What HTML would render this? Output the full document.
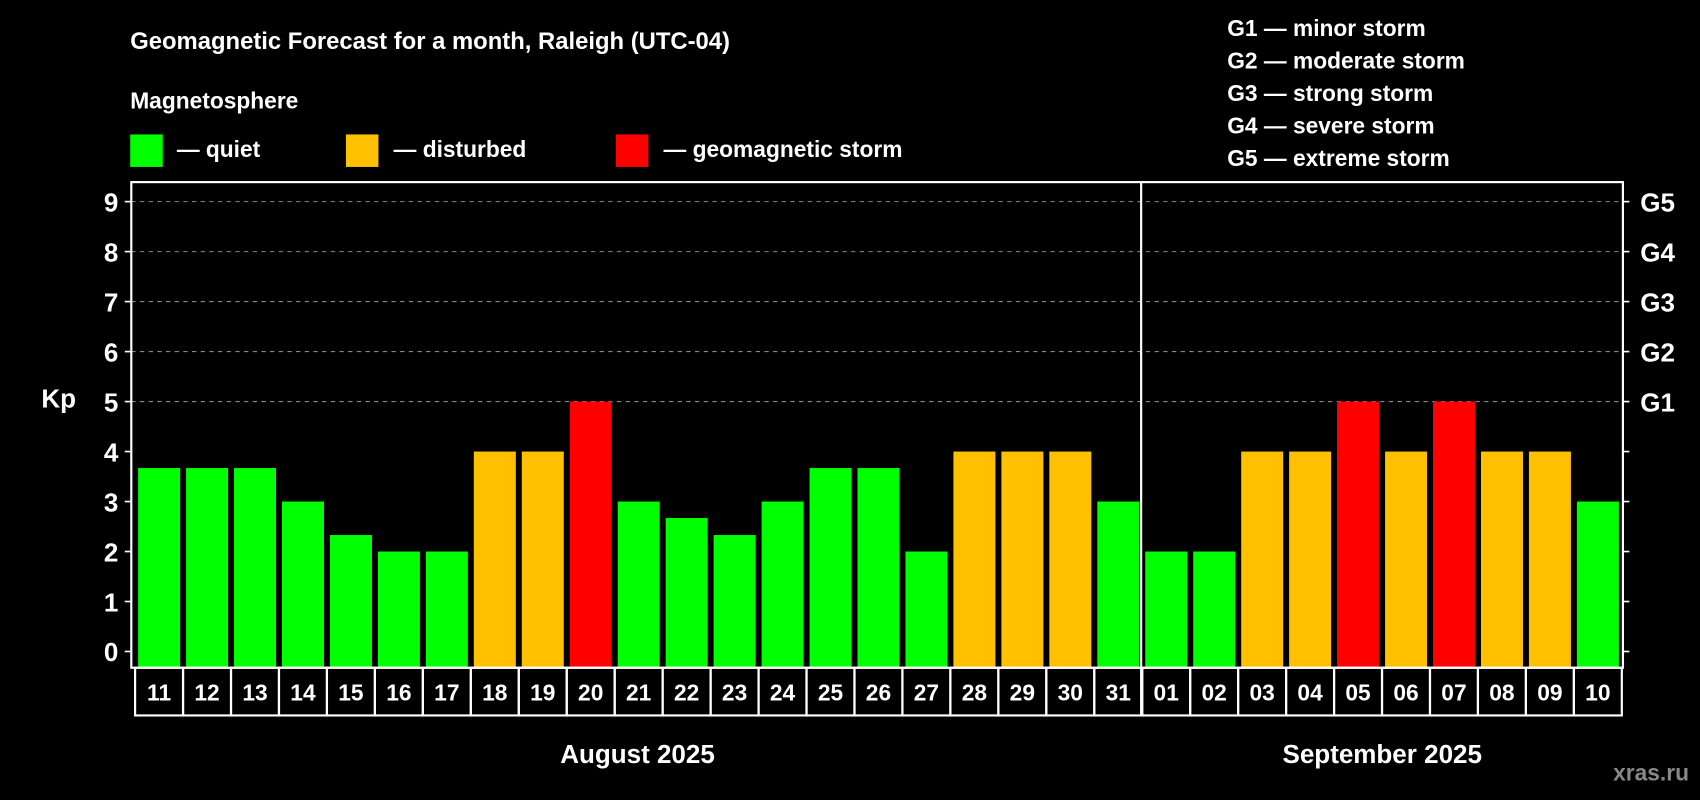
<!DOCTYPE html>
<html><head><meta charset="utf-8"><style>
html,body{margin:0;padding:0;background:#000;}
svg{display:block;font-family:"Liberation Sans",Arial,sans-serif;font-weight:bold;}
</style></head><body>
<svg id="chart" width="1700" height="800" viewBox="0 0 1568 738" xmlns="http://www.w3.org/2000/svg">
<rect width="1568" height="738" fill="#000"/>
<text x="120" y="45" fill="#fff" font-size="22">Geomagnetic Forecast for a month, Raleigh (UTC-04)</text>
<text x="120" y="100" fill="#fff" font-size="21">Magnetosphere</text>
<g><rect x="120" y="124" width="30" height="30" fill="#00ff00"/><text x="163" y="145" fill="#fff" font-size="21">— quiet</text></g>
<g><rect x="319" y="124" width="30" height="30" fill="#ffc000"/><text x="363" y="145" fill="#fff" font-size="21">— disturbed</text></g>
<g><rect x="568" y="124" width="30" height="30" fill="#ff0000"/><text x="612" y="145" fill="#fff" font-size="21">— geomagnetic storm</text></g>
<g fill="#fff" font-size="21">
<text x="1132" y="33">G1 — minor storm</text>
<text x="1132" y="63">G2 — moderate storm</text>
<text x="1132" y="93">G3 — strong storm</text>
<text x="1132" y="123">G4 — severe storm</text>
<text x="1132" y="153">G5 — extreme storm</text>
</g>
<text x="38" y="376" fill="#fff" font-size="24">Kp</text>
<g id="grid"></g><g id="bars"></g><g id="axes"></g>
<text x="588" y="704" fill="#fff" font-size="24" text-anchor="middle">August 2025</text>
<text x="1275" y="704" fill="#fff" font-size="24" text-anchor="middle">September 2025</text>
<text x="1558" y="720" fill="#888" font-size="21" text-anchor="end">xras.ru</text>
</svg>
<script>
const days = ["11","12","13","14","15","16","17","18","19","20","21","22","23","24","25","26","27","28","29","30","31","01","02","03","04","05","06","07","08","09","10"];
const kp = [3.67,3.67,3.67,3,2.33,2,2,4,4,5,3,2.67,2.33,3,3.67,3.67,2,4,4,4,3,2,2,4,4,5,4,5,4,4,3];
const yTicks = [0,1,2,3,4,5,6,7,8,9];
const gLabels = ["","","","","","G1","G2","G3","G4","G5"];
const NS="http://www.w3.org/2000/svg";
const L=121,R=1497,T=168,B=616,cellX=124.5,step=(1496-124.5)/days.length;
function y(v){return 601-v*(601-186)/9;}
function x(i){return cellX+i*step;}
function mk(tag,attrs,parent,txt){const e=document.createElementNS(NS,tag);for(const k in attrs)e.setAttribute(k,attrs[k]);if(txt!==undefined)e.textContent=txt;parent.appendChild(e);return e;}
const grid=document.getElementById('grid'),bars=document.getElementById('bars'),axes=document.getElementById('axes');
yTicks.forEach((v,i)=>{
  if(v>=5){const g=mk('line',{x1:L,x2:R,y1:y(v),y2:y(v),stroke:'#888','stroke-dasharray':'4,4','stroke-width':1},grid);
  
  }
  mk('line',{x1:L-6,x2:L,y1:y(v),y2:y(v),stroke:'#fff','stroke-width':1.5},axes);
  mk('line',{x1:R,x2:R+6,y1:y(v),y2:y(v),stroke:'#fff','stroke-width':1.5},axes);
  const t=mk('text',{x:L-12,y:y(v)+9,fill:'#fff','font-size':24,'text-anchor':'end'},axes,String(v));
  
  
  if(gLabels[i]){const gt=mk('text',{x:R+16,y:y(v)+9,fill:'#fff','font-size':24},axes,gLabels[i]);
  
  }
});
kp.forEach((v,i)=>{
  const c=v>=5?'#ff0000':(v>=4?'#ffc000':'#00ff00');
  const b=mk('rect',{x:x(i)+2.8,y:y(v),width:step-5.5,height:B-y(v),fill:c},bars);
  
  
  const cell=mk('rect',{x:x(i),y:B,width:step,height:44,fill:'none',stroke:'#fff','stroke-width':2},axes);
  
  
  const t=mk('text',{x:x(i)+step/2,y:B+30,fill:'#fff','font-size':21,'text-anchor':'middle'},axes,days[i]);
  
  
});
const f=mk('rect',{x:L,y:T,width:R-L,height:B-T,fill:'none',stroke:'#fff','stroke-width':2},axes);


const si=days.indexOf("01");
const d=mk('line',{x1:x(si)-1,x2:x(si)-1,y1:T,y2:B+44,stroke:'#fff','stroke-width':2},axes);


</script>
</body></html>
